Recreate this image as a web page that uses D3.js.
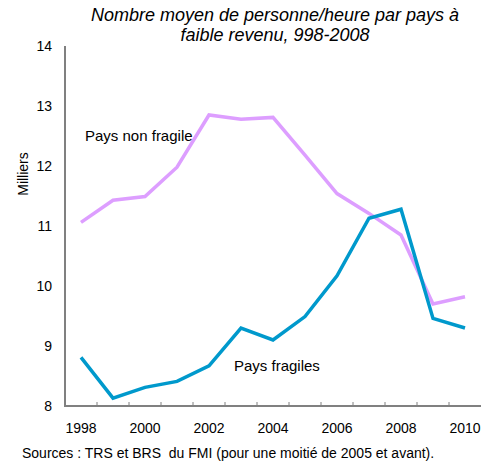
<!DOCTYPE html>
<html lang="fr">
<head>
<meta charset="UTF-8">
<script src="https://d3js.org/d3.v7.min.js"></script>
<style>
  body { margin: 0; background: #fff; }
  text { font-family: "Liberation Sans", Arial, sans-serif; fill: #000; }
</style>
</head>
<body>
<script>
    var years = [1998, 1999, 2000, 2001, 2002, 2003, 2004, 2005, 2006, 2007, 2008, 2009, 2010];
    var nonFragile = [11.06, 11.43, 11.49, 11.98, 12.85, 12.78, 12.81, 12.18, 11.54, 11.21, 10.85, 9.70, 9.82];
    var fragiles = [8.81, 8.13, 8.31, 8.41, 8.67, 9.30, 9.10, 9.49, 10.17, 11.13, 11.28, 9.46, 9.30];
    var yTicks = [8, 9, 10, 11, 12, 13, 14];
    var xLabels = [1998, 2000, 2002, 2004, 2006, 2008, 2010];

    var width = 486, height = 465;
    var plotLeft = 65, plotRight = 481, plotTop = 46, plotBottom = 406;

    var svg = d3.select("body").append("svg")
        .attr("width", width)
        .attr("height", height);

    var x = d3.scaleBand().domain(years).range([plotLeft, plotRight]);
    var y = d3.scaleLinear().domain([8, 14]).range([plotBottom, plotTop]);

    // title
    var title = svg.append("text")
        .attr("text-anchor", "middle")
        .attr("font-size", "18px")
        .attr("font-style", "italic");
    title.append("tspan").attr("x", 275).attr("y", 21)
        .text("Nombre moyen de personne/heure par pays à");
    title.append("tspan").attr("x", 275).attr("y", 41)
        .text("faible revenu, 998-2008");

    // axes
    svg.append("line")
        .attr("x1", plotLeft).attr("x2", plotLeft)
        .attr("y1", plotTop).attr("y2", plotBottom + 1)
        .attr("stroke", "#808080").attr("stroke-width", 2);
    svg.append("line")
        .attr("x1", plotLeft).attr("x2", plotRight)
        .attr("y1", plotBottom).attr("y2", plotBottom)
        .attr("stroke", "#808080").attr("stroke-width", 2);

    // small ticks between years
    svg.selectAll(".xtick")
        .data(years.slice(1))
        .enter().append("line")
        .attr("class", "xtick")
        .attr("x1", function (d) { return x(d); })
        .attr("x2", function (d) { return x(d); })
        .attr("y1", plotBottom).attr("y2", plotBottom - 4)
        .attr("stroke", "#808080").attr("stroke-width", 1);

    svg.selectAll(".ylab")
        .data(yTicks)
        .enter().append("text")
        .attr("class", "ylab")
        .attr("x", 52)
        .attr("y", function (d) { return y(d) + 5; })
        .attr("text-anchor", "end")
        .attr("font-size", "14px")
        .text(function (d) { return d; });

    svg.selectAll(".xlab")
        .data(xLabels)
        .enter().append("text")
        .attr("class", "xlab")
        .attr("x", function (d) { return x(d) + x.bandwidth() / 2; })
        .attr("y", 433)
        .attr("text-anchor", "middle")
        .attr("font-size", "14px")
        .text(function (d) { return d; });

    svg.append("text")
        .attr("transform", "translate(28,174) rotate(-90)")
        .attr("text-anchor", "middle")
        .attr("font-size", "14px")
        .text("Milliers");

    // lines
    var line = d3.line()
        .x(function (d, i) { return x(years[i]) + x.bandwidth() / 2; })
        .y(function (d) { return y(d); });

    svg.append("path")
        .datum(nonFragile)
        .attr("d", line)
        .attr("fill", "none")
        .attr("stroke", "#DD9EFF")
        .attr("stroke-width", 3.5);

    svg.append("path")
        .datum(fragiles)
        .attr("d", line)
        .attr("fill", "none")
        .attr("stroke", "#0099CC")
        .attr("stroke-width", 3.5);

    // labels
    svg.append("text")
        .attr("x", 85).attr("y", 141)
        .attr("font-size", "15px")
        .text("Pays non fragile");
    svg.append("text")
        .attr("x", 234).attr("y", 371)
        .attr("font-size", "15px")
        .text("Pays fragiles");

    svg.append("text")
        .attr("x", 22).attr("y", 458)
        .attr("font-size", "14px")
        .style("white-space", "pre")
        .text("Sources : TRS et BRS  du FMI (pour une moitié de 2005 et avant).");
</script>
</body>
</html>
